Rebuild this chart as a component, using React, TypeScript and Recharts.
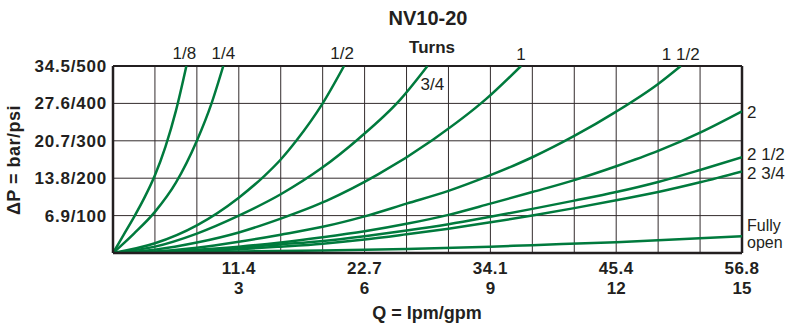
import React from 'react';
import { LineChart, Line, XAxis, YAxis, CartesianGrid, ReferenceLine, LabelList } from 'recharts';

// pressure drop curves, one per needle position: [gpm, psi]
const turns1_8 = [[0, 0], [0.25, 48], [0.5, 96], [0.75, 148], [1, 208], [1.25, 284], [1.5, 380], [1.75, 500]];
const turns1_4 = [[0, 0], [0.5, 52], [1, 110], [1.5, 188], [2, 300], [2.35, 400], [2.63, 500]];
const turns1_2 = [[0, 0], [1, 26], [2, 74], [3, 148], [3.6, 205], [4, 250], [4.37, 300], [5, 400], [5.51, 500]];
const turns3_4 = [[0, 0], [1, 17], [2, 52], [3, 100], [4, 157], [4.95, 225], [5.85, 305], [6.85, 410], [7.5, 500]];
const turns1 = [[0, 0], [1, 9], [2, 28], [3, 55], [4, 92], [5.1, 140], [6.32, 210], [7.63, 303], [8.9, 412], [9.73, 500]];
const turns1_1_2 = [[0, 0], [1, 4], [2, 14], [3, 30], [4, 49], [5, 70], [6, 98], [7, 132], [8, 166], [9, 208], [10, 256], [11, 313], [12, 378], [13, 452], [13.54, 500]];
const turns2 = [[0, 0], [1, 3], [2, 9], [3, 17], [4, 28], [5, 42], [6, 58], [7, 78], [8, 102], [9, 132], [10, 163], [11, 195], [12, 232], [13, 273], [14, 322], [15, 379]];
const turns2_1_2 = [[0, 0], [1, 2], [2, 7], [3, 14], [4, 23], [5, 32], [6, 45], [7, 60], [8, 77], [9, 97], [10, 118], [11, 140], [12, 163], [13, 190], [14, 222], [15, 256]];
const turns2_3_4 = [[0, 0], [1, 2], [2, 5], [3, 10], [4, 17], [5, 25], [6, 36], [7, 50], [8, 65], [9, 82], [10, 100], [11, 120], [12, 141], [13, 163], [14, 189], [15, 218]];
const fullyOpen = [[0, 0], [2, 3], [5, 7], [7, 11], [9, 17], [10, 21], [12, 29], [15, 45]];

const psiTicks = [0, 100, 200, 300, 400, 500];
const psiLabels = ['', '6.9/100', '13.8/200', '20.7/300', '27.6/400', '34.5/500'];
const gpmTicks = [0, 1, 2, 3, 4, 5, 6, 7, 8, 9, 10, 11, 12, 13, 14, 15];
const gpmLabeled = [3, 6, 9, 12, 15];
const lpmLabels = ['11.4', '22.7', '34.1', '45.4', '56.8'];

const GREEN = '#007a3d';
const INK = '#231f20';
const FONT = '"Liberation Sans", Arial, Helvetica, sans-serif';

const series = [
  { name: '1/8', pts: turns1_8, dx: -2, dy: -7, anchor: 'middle' },
  { name: '1/4', pts: turns1_4, dx: 0, dy: -7, anchor: 'middle' },
  { name: '1/2', pts: turns1_2, dx: -2, dy: -7, anchor: 'middle' },
  { name: '3/4', pts: turns3_4, dx: -7, dy: 24, anchor: 'start' },
  { name: '1', pts: turns1, dx: 0, dy: -6, anchor: 'middle' },
  { name: '1 1/2', pts: turns1_1_2, dx: 0, dy: -6, anchor: 'middle' },
  { name: '2', pts: turns2, dx: 5, dy: 7, anchor: 'start' },
  { name: '2 1/2', pts: turns2_1_2, dx: 5, dy: 3, anchor: 'start' },
  { name: '2 3/4', pts: turns2_3_4, dx: 5, dy: 8, anchor: 'start' },
  { name: 'Fully open', pts: fullyOpen, dx: 5, dy: -5, anchor: 'start' },
];

const YTick = ({ x, y, payload }: any) => {
  const label = psiLabels[psiTicks.indexOf(payload.value)];
  if (!label) return null;
  return (
    <text x={x} y={y} dy={6} textAnchor="end" fill={INK} fontFamily={FONT} fontSize={17} fontWeight={700} letterSpacing={0.8}>
      {label}
    </text>
  );
};

const XTick = ({ x, y, payload }: any) => {
  const i = gpmLabeled.indexOf(payload.value);
  if (i < 0) return null;
  return (
    <g>
      <text x={x} y={y} dy={15} textAnchor="middle" fill={INK} fontFamily={FONT} fontSize={17} fontWeight={700} letterSpacing={0.5}>
        {lpmLabels[i]}
      </text>
      <text x={x} y={y} dy={35} textAnchor="middle" fill={INK} fontFamily={FONT} fontSize={17} fontWeight={700}>
        {gpmLabeled[i]}
      </text>
    </g>
  );
};

export default function App() {
  const renderEndLabel = (s: any) => (props: any) => {
    const { x, y, index } = props;
    if (index !== s.pts.length - 1) return null;
    if (s.name === 'Fully open') {
      const [first, second] = s.name.split(' ');
      return (
        <g>
          <text x={x + s.dx} y={y + s.dy} fill={INK} fontFamily={FONT} fontSize={16}>{first}</text>
          <text x={x + s.dx} y={y + s.dy + 17} fill={INK} fontFamily={FONT} fontSize={16}>{second}</text>
        </g>
      );
    }
    return (
      <text x={x + s.dx} y={y + s.dy} textAnchor={s.anchor} fill={INK} fontFamily={FONT} fontSize={17}>
        {s.name}
      </text>
    );
  };

  return (
    <div style={{ position: 'absolute', left: 0, top: 0, width: 792, height: 329, background: '#fff' }}>
      <LineChart width={792} height={329} margin={{ top: 66, right: 50, bottom: 0, left: 0 }}>
        <CartesianGrid stroke="#332c2d" strokeWidth={1} />
        <XAxis
          type="number"
          dataKey="q"
          domain={[0, 15]}
          ticks={gpmTicks}
          interval={0}
          height={76}
          tickLine={false}
          tickSize={4}
          tickMargin={2}
          axisLine={{ stroke: INK, strokeWidth: 2.5 }}
          tick={<XTick />}
          allowDataOverflow
        />
        <YAxis
          type="number"
          domain={[0, 500]}
          ticks={psiTicks}
          interval={0}
          width={113}
          tickLine={false}
          tickSize={4}
          tickMargin={2}
          axisLine={{ stroke: INK, strokeWidth: 2.5 }}
          tick={<YTick />}
          allowDataOverflow
        />
        <ReferenceLine x={15} stroke={INK} strokeWidth={2.5} />
        <ReferenceLine y={500} stroke={INK} strokeWidth={2} />
        {series.map((s) => (
          <Line
            key={s.name}
            data={s.pts.map(([q, p]) => ({ q, p }))}
            dataKey="p"
            type="monotone"
            stroke={GREEN}
            strokeWidth={2.5}
            dot={false}
            isAnimationActive={false}
          >
            <LabelList dataKey="p" content={renderEndLabel(s)} />
          </Line>
        ))}
      </LineChart>
      <svg width={792} height={329} style={{ position: 'absolute', left: 0, top: 0, pointerEvents: 'none' }}>
        <text x={428} y={25} textAnchor="middle" fill={INK} fontFamily={FONT} fontSize={20} fontWeight={700}>NV10-20</text>
        <text x={432} y={53} textAnchor="middle" fill={INK} fontFamily={FONT} fontSize={17} fontWeight={700}>Turns</text>
        <text x={427} y={319} textAnchor="middle" fill={INK} fontFamily={FONT} fontSize={18} fontWeight={700}>Q = lpm/gpm</text>
        <text
          x={0}
          y={0}
          transform="translate(20,160) rotate(-90)"
          textAnchor="middle"
          fill={INK}
          fontFamily={FONT}
          fontSize={18}
          fontWeight={700}
          letterSpacing={0.5}
        >
          ΔP = bar/psi
        </text>
      </svg>
    </div>
  );
}
